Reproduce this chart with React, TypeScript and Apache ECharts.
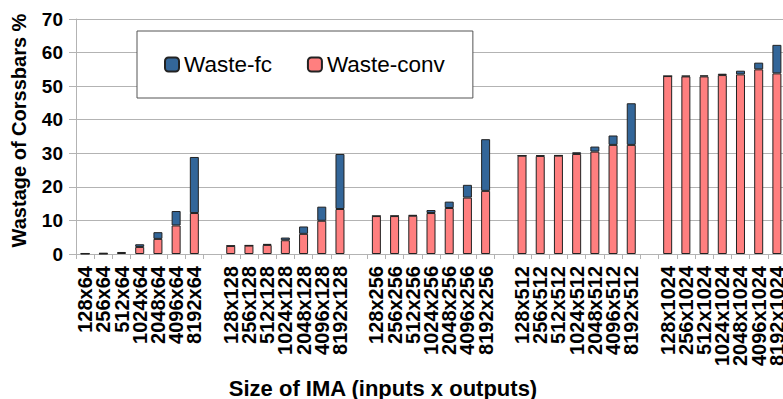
import React, { useEffect, useRef } from "react";
import * as echarts from "echarts";

const groups = ["64", "128", "256", "512", "1024"];
const inputs = ["128", "256", "512", "1024", "2048", "4096", "8192"];

// Per group values (inputs 128..8192), "" gap categories inserted between groups
const convByGroup: number[][] = [
  [0.1, 0.1, 0.3, 2.1, 4.5, 8.5, 12.2],
  [2.4, 2.5, 2.7, 4.1, 6.0, 9.9, 13.4],
  [11.3, 11.3, 11.4, 12.2, 13.7, 16.8, 18.8],
  [29.3, 29.2, 29.3, 29.8, 30.5, 32.5, 32.5],
  [53.0, 52.9, 52.9, 53.3, 53.5, 55.0, 53.8],
];
const fcByGroup: number[][] = [
  [0.1, 0.2, 0.3, 0.8, 2.0, 4.3, 16.7],
  [0.1, 0.1, 0.3, 0.8, 2.2, 4.2, 16.4],
  [0.05, 0.1, 0.2, 0.9, 1.9, 3.8, 15.4],
  [0.0, 0.2, 0.1, 0.5, 1.5, 2.8, 12.4],
  [0.0, 0.2, 0.3, 0.4, 1.1, 2.0, 8.5],
];
const yTicks = [0, 10, 20, 30, 40, 50, 60, 70];

const categories: string[] = [];
const conv: (number | null)[] = [];
const fc: (number | null)[] = [];
groups.forEach((g, gi) => {
  if (gi > 0) {
    categories.push("");
    conv.push(null);
    fc.push(null);
  }
  inputs.forEach((inp, ii) => {
    categories.push(`${inp}x${g}`);
    conv.push(convByGroup[gi][ii]);
    fc.push(fcByGroup[gi][ii]);
  });
});

const FONT = "Liberation Sans";

export default function App() {
  const ref = useRef<HTMLDivElement>(null);
  useEffect(() => {
    if (!ref.current) return;
    const chart = echarts.init(ref.current, null, { renderer: "svg" });
    chart.setOption({
      animation: false,
      textStyle: { fontFamily: FONT },
      grid: {
        left: 76,
        right: -3,
        top: 19,
        bottom: 145,
        containLabel: false,
        outerBoundsMode: "none",
      },
      legend: {
        data: ["Waste-fc", "Waste-conv"],
        left: 137,
        top: 31,
        orient: "horizontal",
        padding: [22, 28, 22, 27],
        itemWidth: 14,
        itemHeight: 14,
        itemGap: 35,
        borderColor: "#555",
        borderWidth: 1,
        backgroundColor: "#fff",
        textStyle: { fontSize: 22.5, color: "#000", fontFamily: FONT },
      },
      xAxis: {
        type: "category",
        data: categories,
        name: "Size of IMA (inputs x outputs)",
        nameLocation: "middle",
        nameGap: 123,
        nameTextStyle: {
          fontSize: 22,
          fontWeight: "bold",
          color: "#000",
          fontFamily: FONT,
          padding: [0, 96, 0, 0],
        },
        axisLine: { lineStyle: { color: "#b3b3b3" } },
        axisTick: { show: true, interval: 0, length: 5, lineStyle: { color: "#b3b3b3" } },
        axisLabel: {
          interval: 0,
          rotate: 90,
          margin: 12,
          fontSize: 20,
          fontWeight: "bold",
          color: "#000",
          fontFamily: FONT,
          padding: [0, 0, 3, 0],
        },
      },
      yAxis: {
        type: "value",
        min: yTicks[0],
        max: yTicks[yTicks.length - 1],
        interval: 10,
        name: "Wastage of Corssbars %",
        nameLocation: "middle",
        nameRotate: 90,
        nameGap: 47,
        nameTextStyle: {
          fontSize: 20,
          fontWeight: "bold",
          color: "#000",
          fontFamily: FONT,
          padding: [0, 0, 0, 12],
        },
        axisLine: { show: true, lineStyle: { color: "#b3b3b3" } },
        axisTick: { show: true, length: 7, lineStyle: { color: "#b3b3b3" } },
        splitLine: { show: true, lineStyle: { color: "#b3b3b3" } },
        axisLabel: {
          margin: 13,
          fontSize: 19,
          fontWeight: "bold",
          color: "#000",
          fontFamily: FONT,
        },
      },
      series: [
        {
          name: "Waste-conv",
          type: "bar",
          stack: "w",
          data: conv,
          barWidth: 9,
          itemStyle: { color: "#ff7f7f", borderColor: "#222", borderWidth: 1 },
        },
        {
          name: "Waste-fc",
          type: "bar",
          stack: "w",
          data: fc,
          barWidth: 9,
          itemStyle: { color: "#336699", borderColor: "#222", borderWidth: 1 },
        },
      ],
    });
    return () => chart.dispose();
  }, []);
  return (
    <div
      ref={ref}
      style={{ position: "absolute", left: 0, top: 0, width: 783, height: 399, overflow: "hidden" }}
    />
  );
}
